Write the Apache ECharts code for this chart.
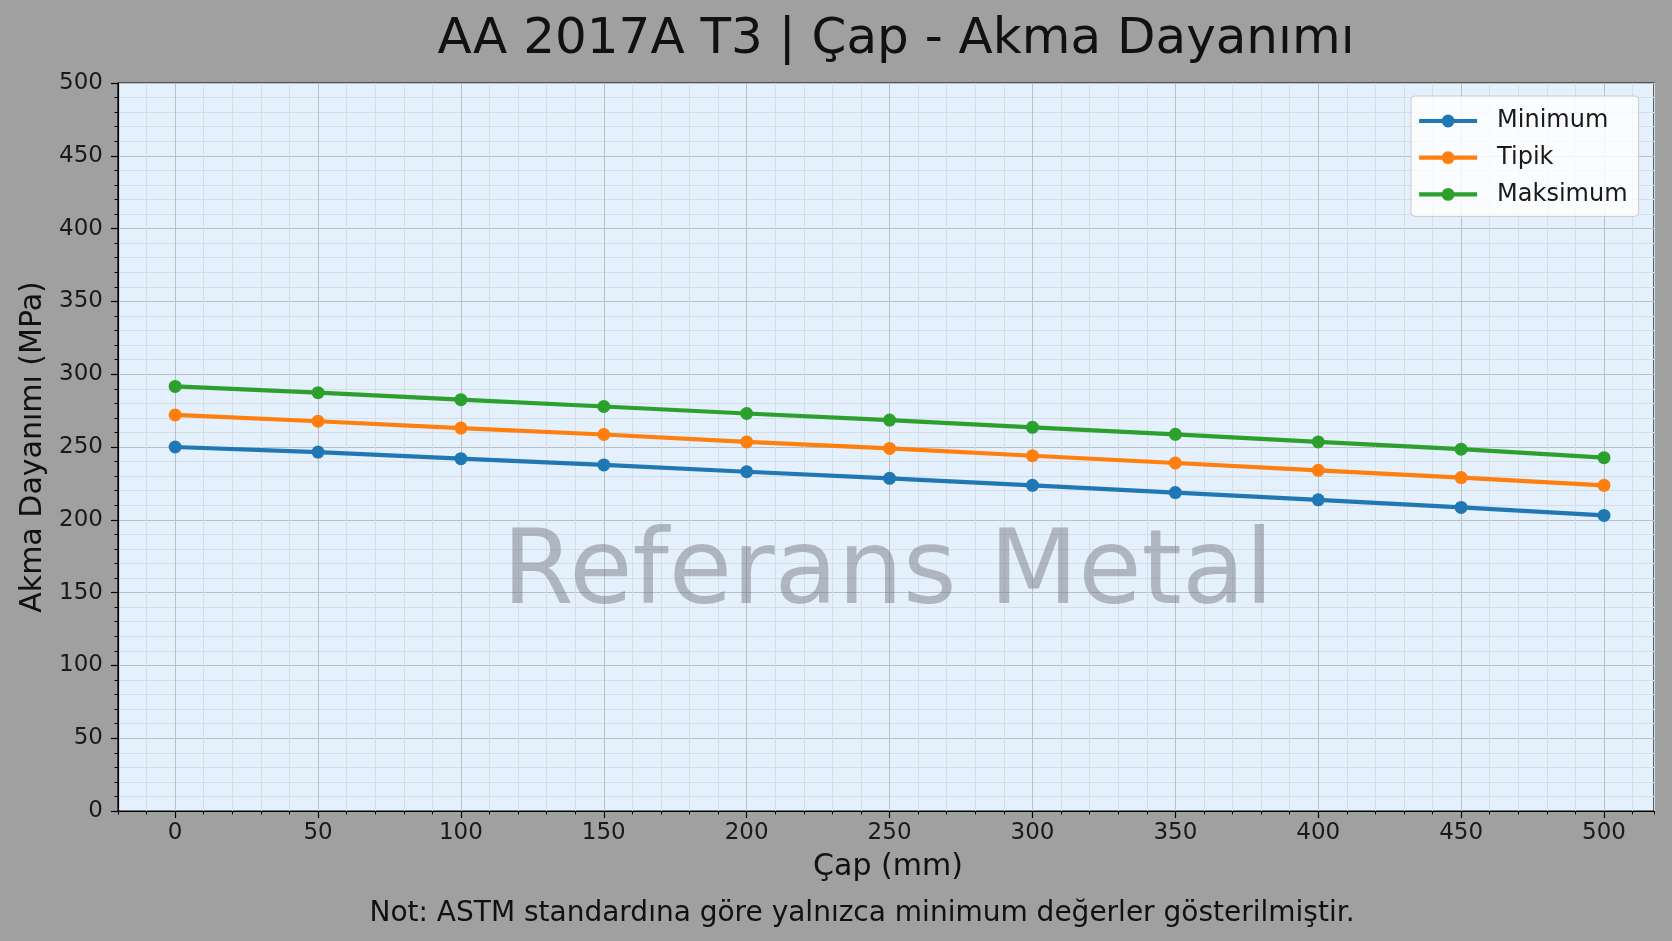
<!DOCTYPE html>
<html>
<head>
<meta charset="utf-8">
<script src="https://cdn.jsdelivr.net/npm/echarts@6/dist/echarts.min.js"></script>
<style>
  html, body { margin: 0; padding: 0; background: #a0a0a0; }
  #chart { width: 1672px; height: 941px; }
</style>
</head>
<body>
<div id="chart"></div>
<script>
// values
const diameters = [0, 50, 100, 150, 200, 250, 300, 350, 400, 450, 500];
const minimum = [250, 246.5, 242, 237.7, 233, 228.5, 223.7, 218.7, 213.7, 208.5, 203];
const tipik = [272, 267.7, 263, 258.6, 253.5, 249, 244, 239, 234, 229, 223.7];
const maksimum = [291.6, 287.3, 282.5, 277.8, 273, 268.5, 263.5, 258.7, 253.5, 248.5, 242.7];
const xTicks = [0, 50, 100, 150, 200, 250, 300, 350, 400, 450, 500];

const font = "DejaVu Sans";
const majorGrid = "#b9c0c7";
const minorGrid = "#d3dee9";

var chart = echarts.init(document.getElementById("chart"));

function pairs(values) {
  return diameters.map(function (d, i) { return [d, values[i]]; });
}

function lineSeries(name, values, color) {
  return {
    name: name,
    type: "line",
    xAxisIndex: 0,
    data: pairs(values),
    symbol: "circle",
    symbolSize: 13,
    lineStyle: { color: color, width: 4.2 },
    itemStyle: { color: color },
    z: 3
  };
}

var option = {
  animation: false,
  backgroundColor: "#a0a0a0",
  textStyle: { fontFamily: font },
  grid: {
    left: 118,
    right: 18,
    top: 83,
    bottom: 130,
    show: true,
    backgroundColor: "#e4f0fb",
    borderColor: "#000",
    borderWidth: 1.2
  },
  legend: {
    orient: "vertical",
    left: 1411,
    top: 96,
    itemWidth: 58,
    itemHeight: 16,
    itemGap: 12.7,
    padding: [13, 11, 10, 6],
    backgroundColor: "rgba(255,255,255,0.8)",
    borderColor: "#cccccc",
    borderWidth: 1,
    borderRadius: 4,
    lineStyle: { width: 4.2 },
    textStyle: { fontFamily: font, fontSize: 24, color: "#1a1a1a", padding: [0, 0, 0, 15] },
    data: ["Minimum", "Tipik", "Maksimum"]
  },
  xAxis: [
    {
      // minor ticks and minor vertical grid, every 10 mm
      type: "value",
      min: -20,
      max: 517.5,
      interval: 10,
      position: "bottom",
      axisLine: { show: true, onZero: false, lineStyle: { color: "#000", width: 1.2 } },
      axisTick: { show: true, length: 3.5, lineStyle: { color: "#000", width: 1 } },
      axisLabel: { show: false },
      splitLine: { show: true, lineStyle: { color: minorGrid, width: 1 } }
    },
    {
      // major ticks, labels and grid, every 50 mm
      type: "value",
      min: -20,
      max: 517.5,
      interval: 50,
      position: "bottom",
      axisLine: { show: false, onZero: false },
      axisTick: { show: true, length: 7, customValues: xTicks, lineStyle: { color: "#000", width: 1.2 } },
      axisLabel: {
        show: true,
        customValues: xTicks,
        margin: 11,
        fontFamily: font,
        fontSize: 23,
        color: "#1a1a1a"
      },
      splitLine: { show: true, lineStyle: { color: majorGrid, width: 1 } }
    }
  ],
  yAxis: {
    type: "value",
    min: 0,
    max: 500,
    interval: 50,
    axisLine: { show: true, onZero: false, lineStyle: { color: "#000", width: 1.2 } },
    axisTick: { show: true, length: 7, lineStyle: { color: "#000", width: 1.2 } },
    minorTick: { show: true, splitNumber: 5, length: 3.5, lineStyle: { color: "#000", width: 1 } },
    axisLabel: { margin: 15, fontFamily: font, fontSize: 23, color: "#1a1a1a" },
    splitLine: { show: true, lineStyle: { color: majorGrid, width: 1 } },
    minorSplitLine: { show: true, lineStyle: { color: minorGrid, width: 1 } }
  },
  graphic: [
    {
      type: "text",
      x: 896, y: 40, z: 10,
      style: {
        text: "AA 2017A T3 | Çap - Akma Dayanımı",
        font: "50px 'DejaVu Sans'",
        fill: "#111",
        align: "center",
        verticalAlign: "middle"
      }
    },
    {
      type: "text",
      x: 888, y: 576, z: 1,
      style: {
        text: "Referans Metal",
        font: "103px 'DejaVu Sans'",
        fill: "rgba(110,110,120,0.45)",
        align: "center",
        verticalAlign: "middle"
      }
    },
    {
      type: "text",
      x: 888, y: 867, z: 10,
      style: {
        text: "Çap (mm)",
        font: "30px 'DejaVu Sans'",
        fill: "#111",
        align: "center",
        verticalAlign: "middle"
      }
    },
    {
      type: "text",
      x: 33, y: 447, z: 10,
      rotation: Math.PI / 2,
      style: {
        text: "Akma Dayanımı (MPa)",
        font: "30px 'DejaVu Sans'",
        fill: "#111",
        align: "center",
        verticalAlign: "middle"
      }
    },
    {
      type: "text",
      x: 862, y: 914, z: 10,
      style: {
        text: "Not: ASTM standardına göre yalnızca minimum değerler gösterilmiştir.",
        font: "28px 'DejaVu Sans'",
        fill: "#111",
        align: "center",
        verticalAlign: "middle"
      }
    }
  ],
  series: [
    lineSeries("Minimum", minimum, "#1f77b4"),
    lineSeries("Tipik", tipik, "#ff7f0e"),
    lineSeries("Maksimum", maksimum, "#2ca02c")
  ]
};

chart.setOption(option);
</script>
</body>
</html>
